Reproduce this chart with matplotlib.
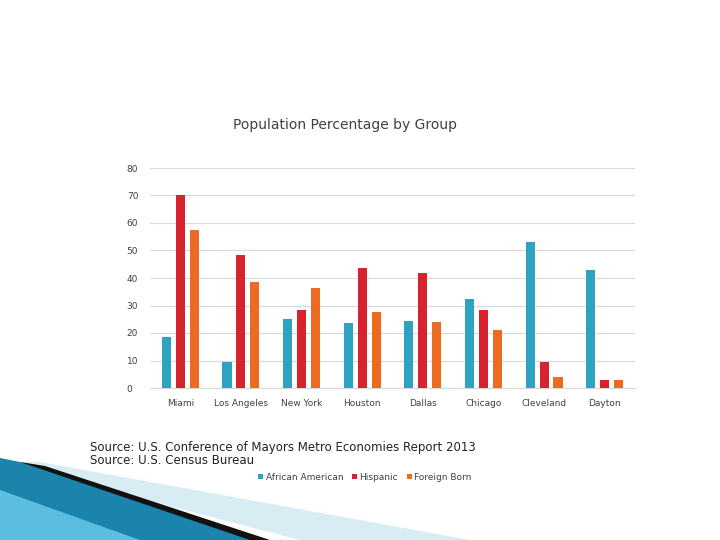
import numpy as np
import matplotlib.pyplot as plt
from matplotlib.patches import Polygon

cities = ["Miami", "Los Angeles", "New York", "Houston", "Dallas", "Chicago", "Cleveland", "Dayton"]
african_american = [18.5, 9.5, 25, 23.5, 24.5, 32.5, 53, 43]
hispanic = [70, 48.5, 28.5, 43.5, 42, 28.5, 9.5, 2.8]
foreign_born = [57.5, 38.5, 36.5, 27.7, 24, 21, 4, 3]
y_ticks = [0, 10, 20, 30, 40, 50, 60, 70, 80]

colors = ["#2ea3c1", "#d7232d", "#ec6a22"]
labels = ["African American", "Hispanic", "Foreign Born"]

fig = plt.figure(figsize=(7.2, 5.4), dpi=100)

# decorative corner shapes (figure pixel coords, origin top-left)
def px(pts):
    return [(x / 720, 1 - y / 540) for x, y in pts]

fig.patches.append(Polygon(px([(0, 462), (300, 540), (470, 540), (40, 462)]),
                           closed=True, transform=fig.transFigure, facecolor="#d8ecf3", edgecolor="none"))
fig.patches.append(Polygon(px([(0, 458), (40, 466), (265, 540), (0, 540)]),
                           closed=True, transform=fig.transFigure, facecolor="#1b84ad", edgecolor="none"))
fig.patches.append(Polygon(px([(0, 490), (140, 540), (0, 540)]),
                           closed=True, transform=fig.transFigure, facecolor="#5bbde0", edgecolor="none"))
fig.patches.append(Polygon(px([(20, 462), (45, 466), (270, 540), (250, 540)]),
                           closed=True, transform=fig.transFigure, facecolor="#111111", edgecolor="none"))

ax = fig.add_axes([150 / 720, 1 - 388 / 540, 485 / 720, 220 / 540])
x = np.arange(len(cities))
w = 0.15
step = 0.23
for i, vals in enumerate([african_american, hispanic, foreign_born]):
    ax.bar(x + (i - 1) * step, vals, width=w, color=colors[i], label=labels[i], zorder=3)

ax.set_xlim(-0.5, len(cities) - 0.5)
ax.set_ylim(0, 80)
ax.set_yticks(y_ticks)
ax.set_xticks(x)
ax.set_xticklabels(cities)
ax.grid(axis="y", color="#d9d9d9", linewidth=0.8, zorder=0)
for s in ["top", "right", "left"]:
    ax.spines[s].set_visible(False)
ax.spines["bottom"].set_color("#d9d9d9")
ax.tick_params(axis="both", length=0, labelsize=6.5, labelcolor="#404040", pad=8)
ax.tick_params(axis="y", pad=0)
for t in ax.get_yticklabels():
    t.set_horizontalalignment("left")
    t.set_x(-0.048)

fig.text(345 / 720, 1 - 125 / 540, "Population Percentage by Group", ha="center", va="center",
         fontsize=10, color="#404040")
fig.text(90 / 720, 1 - 447 / 540, "Source: U.S. Conference of Mayors Metro Economies Report 2013",
         ha="left", va="center", fontsize=8.5, color="#222222")
fig.text(90 / 720, 1 - 461 / 540, "Source: U.S. Census Bureau",
         ha="left", va="center", fontsize=8.5, color="#222222")

fig.legend(loc="center", bbox_to_anchor=(365 / 720, 1 - 477 / 540), ncol=3, frameon=False,
           fontsize=6.5, handlelength=0.5, handleheight=0.5, columnspacing=1.0, handletextpad=0.3,
           labelcolor="#404040")

fig.savefig("out.png", dpi=100)
